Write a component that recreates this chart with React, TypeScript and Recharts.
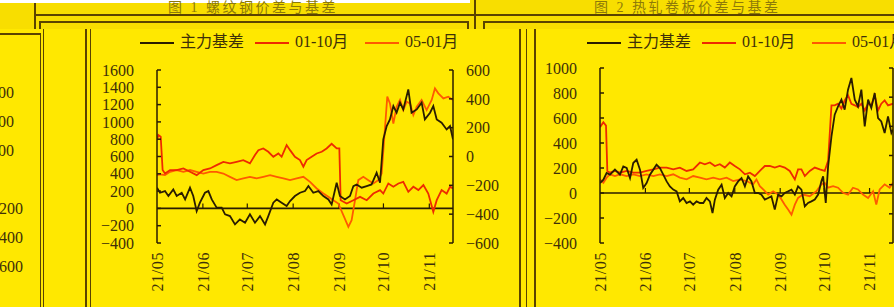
import React from 'react';
import { LineChart, Line, XAxis, YAxis, ReferenceLine } from 'recharts';

// ---------- shared axis data ----------
const monthDays = [0, 31, 61, 92, 123, 153, 184];
const monthLabels = ['21/05', '21/06', '21/07', '21/08', '21/09', '21/10', '21/11'];
const c1LeftTicks = [-400, -200, 0, 200, 400, 600, 800, 1000, 1200, 1400, 1600];
const c2LeftTicks = [-400, -200, 0, 200, 400, 600, 800, 1000];
const rightTicks = [-600, -400, -200, 0, 200, 400, 600];
const partialTicks = [600, 400, 200, 0, -200, -400, -600];
const seriesNames = ['主力基差', '01-10月', '05-01月'];
const titles = ['图 1  螺纹钢价差与基差', '图 2  热轧卷板价差与基差'];

// ---------- chart 1 (days since 2021-05-01) ----------
const c1BasisDay = [0, 2, 5.4, 7.7, 11, 13.3, 16.7, 19, 22.3, 24.5, 26.8, 29, 32.4, 34.7, 37, 40.3, 43.7, 46, 49.3, 52.7, 56, 59.5, 62.8, 66.2, 69.6, 73, 75.2, 78.6, 80.9, 84.2, 87.6, 89.9, 93.2, 96.6, 100, 102.3, 105.6, 109, 112.4, 115.8, 118, 121.4, 123.6, 127, 130.4, 132.7, 134.9, 138.3, 141.7, 145, 148.4, 150.7, 152.9, 155.2, 157.4, 159.7, 161.9, 164.2, 166.4, 169.8, 172, 175.5, 178.8, 181, 184.5, 186.7, 189, 192.3, 195.7, 198, 200];
const c1BasisVal = [239, 181, 200, 143, 220, 143, 181, 104, 239, 143, -31, 66, 181, 200, 104, 8, 8, -69, -89, -185, -127, -166, -69, -166, -89, -185, -89, 66, 104, 66, 27, 85, 143, 181, 200, 258, 181, 200, 143, 104, 46, 297, 143, 104, 143, 258, 277, 239, 258, 277, 412, 297, 798, 952, 1029, 1183, 1106, 1222, 1144, 1376, 1106, 1144, 1222, 1029, 1106, 1183, 1029, 990, 913, 952, 798];

const c1S0110Day = [0, 0.9, 2.5, 3.8, 5.4, 8.8, 13.3, 17.8, 22.3, 26.8, 31.3, 35.8, 40.3, 44.8, 49.3, 53.8, 58.3, 62.8, 66.2, 68.5, 71.8, 75.2, 78.6, 82, 84.2, 87.6, 89.9, 93.2, 96.6, 98.9, 101.1, 104.5, 107.9, 111.3, 114.6, 118, 121.4, 123.2, 124.1, 128.2, 132.7, 137.2, 141.7, 146.2, 150.7, 152.9, 156.3, 159.7, 163.1, 166.4, 169.8, 173.2, 176.6, 180, 183.3, 186.7, 189, 192.3, 195.7, 198, 200];
const c1S0110Val = [114, 149, 137, -94, -118, -94, -94, -83, -106, -129, -94, -83, -60, -37, -48, -37, -25, -48, 10, 44, 56, 33, -2, 21, -2, 79, 44, -2, -25, -71, -25, -2, 21, 33, 56, 88, 56, 56, -303, -326, -303, -280, -303, -257, -233, -257, -187, -210, -187, -176, -245, -210, -233, -198, -257, -384, -303, -233, -257, -210, -221];

const c1S0501Day = [0, 2, 5.4, 8.8, 13.3, 17.8, 22.3, 26.8, 31.3, 35.8, 40.3, 44.8, 49.3, 53.8, 58.3, 62.8, 67.3, 71.8, 76.4, 80.9, 85.4, 89.9, 94.4, 98.9, 103.4, 107.9, 112.4, 115.8, 119.1, 122.5, 125.9, 129.3, 131.5, 133.8, 136, 139.4, 142.8, 146.2, 149.5, 151.8, 154.1, 155.6, 157.4, 159.7, 161.9, 164.2, 166.4, 168.7, 170.9, 173.2, 175.5, 178.8, 182.2, 185.6, 187.8, 190.1, 193.5, 196.8, 200];
const c1S0501Val = [-129, -124, -129, -106, -94, -106, -94, -106, -118, -106, -106, -118, -141, -164, -152, -141, -152, -141, -129, -141, -152, -164, -152, -141, -176, -222, -257, -280, -303, -326, -407, -488, -442, -303, -164, -141, -164, -187, -164, -118, 206, 415, 368, 229, 345, 392, 322, 380, 368, 288, 345, 392, 322, 392, 472, 438, 403, 415, 392];

// ---------- chart 2 ----------
const c2BasisDay = [0, 2.3, 4.5, 6.8, 10.2, 13.6, 15.9, 18.2, 20.5, 22.7, 25, 27.3, 29.5, 31.8, 34.1, 36.4, 38.6, 40.9, 43.2, 45.5, 47.7, 50, 52.3, 54.5, 56.8, 59.1, 61.4, 63.6, 65.9, 68.2, 70.5, 72.7, 75, 76.8, 78.4, 80.7, 83, 85.2, 87.5, 89.8, 92, 94.3, 96.6, 98.9, 101.1, 103.4, 105.7, 108, 110.2, 112.5, 114.8, 117, 119.3, 121.6, 123.9, 126.1, 128.4, 130.7, 133, 135.2, 137.5, 139.8, 142, 144.3, 146.6, 148.9, 151.1, 152.3, 154.1, 155.7, 158, 160.2, 162.5, 164.8, 167, 169.3, 171.6, 173.9, 176.1, 178.4, 180.7, 183, 185.2, 187.5, 189.8, 192, 194.3, 196.6, 198.9, 200];
const c2BasisVal = [80, 107, 160, 147, 187, 147, 213, 200, 120, 240, 267, 187, 40, 80, 147, 187, 227, 200, 147, 93, 53, 27, 13, -67, -40, -80, -67, -93, -67, -80, -80, -40, -67, -160, -53, 27, 67, -40, 0, -27, 53, 93, 120, 53, 133, 93, 0, 0, -13, -53, -40, -27, -133, -13, -27, 0, 13, 27, -13, 53, 27, -107, -80, -67, -53, -13, 93, 133, -80, 213, 453, 627, 693, 747, 667, 827, 920, 747, 693, 827, 533, 747, 680, 800, 600, 573, 480, 613, 480, 507];

const c2S0110Day = [0, 2.3, 4.1, 5, 6.8, 10.2, 13.6, 18.2, 22.7, 27.3, 31.8, 36.4, 40.9, 45.5, 50, 54.5, 59.1, 63.6, 68.2, 71.6, 75, 78.4, 81.8, 85.2, 88.6, 92, 95.5, 98.9, 102.3, 105.7, 109.1, 112.5, 115.9, 119.3, 122.7, 126.1, 129.5, 133, 135.2, 137.5, 139.8, 143.2, 146.6, 150, 153.4, 155.7, 158, 160.2, 162.5, 164.8, 167, 169.3, 171.6, 173.9, 176.1, 178.4, 180.7, 183, 185.2, 187.5, 189.8, 192, 194.3, 196.6, 200];
const c2S0110Val = [194, 228, 205, -106, -118, -106, -118, -106, -118, -118, -106, -95, -83, -83, -95, -83, -106, -95, -48, -60, -48, -72, -60, -83, -48, -72, -95, -129, -118, -141, -106, -72, -72, -83, -72, -83, -106, -164, -95, -95, -141, -106, -83, -95, -106, -37, 344, 344, 355, 321, 378, 413, 355, 344, 332, 355, 309, 355, 344, 413, 309, 355, 378, 344, 355];

const c2S0501Day = [0, 2.3, 4.5, 6.8, 10.2, 13.6, 18.2, 22.7, 27.3, 31.8, 36.4, 40.9, 45.5, 50, 54.5, 59.1, 63.6, 68.2, 72.7, 77.3, 81.8, 86.4, 90.9, 95.5, 100, 104.5, 106.8, 109.1, 111.4, 114.8, 118.2, 121.6, 123.9, 126.1, 128.4, 130.7, 133, 135.2, 138.6, 143.2, 147.7, 151.1, 153.4, 155.7, 159.1, 162.5, 165.9, 169.3, 172.7, 176.1, 179.5, 183, 186.4, 188.6, 190.9, 194.3, 197.7, 200];
const c2S0501Val = [-164, -187, -152, -129, -141, -129, -141, -129, -141, -129, -141, -129, -141, -129, -152, -164, -141, -152, -164, -152, -164, -152, -175, -164, -175, -198, -164, -210, -233, -268, -245, -268, -302, -337, -371, -406, -337, -291, -268, -279, -245, -198, -187, -221, -210, -221, -256, -268, -221, -233, -268, -291, -245, -337, -233, -198, -221, -187];

// ---------- styles ----------
const BG = '#FFE800';
const BAND = '#F8DE00';
const FRAME = '#5A4300';
const INK = '#3E3008';
const BLACK = '#2A1C00';
const RED = '#EE2A00';
const ORANGE = '#FF5A00';
const SERIF = "'Liberation Serif', 'Noto Sans CJK SC', serif";

type Row = { d: number; b?: number; a?: number; c?: number };

function buildRows(parts: { key: 'b' | 'a' | 'c'; days: number[]; vals: number[] }[]): Row[] {
  const map = new Map<number, Row>();
  parts.forEach(p => {
    p.days.forEach((d, i) => {
      const r = map.get(d) || { d };
      r[p.key] = p.vals[i];
      map.set(d, r);
    });
  });
  return Array.from(map.values()).sort((x, y) => x.d - y.d);
}

const rows1 = buildRows([
  { key: 'b', days: c1BasisDay, vals: c1BasisVal },
  { key: 'a', days: c1S0110Day, vals: c1S0110Val },
  { key: 'c', days: c1S0501Day, vals: c1S0501Val },
]);
const rows2 = buildRows([
  { key: 'b', days: c2BasisDay, vals: c2BasisVal },
  { key: 'a', days: c2S0110Day, vals: c2S0110Val },
  { key: 'c', days: c2S0501Day, vals: c2S0501Val },
]);

const fmt = (v: number) => (v < 0 ? '\u2212' + Math.abs(v) : String(v));

const MonthTick = (props: any) => {
  const { x, y, payload } = props;
  const i = monthDays.indexOf(payload.value);
  return (
    <g transform={`translate(${x},${y})`}>
      <text transform="rotate(-90)" textAnchor="end" dy="0.36em" fontSize={16} fontFamily={SERIF} fill={INK} letterSpacing={0.6}>
        {monthLabels[i]}
      </text>
    </g>
  );
};

const tickStyle = { fontSize: 16, fontFamily: SERIF, fill: INK };

function Panel(props: { rows: Row[]; leftTicks: number[]; left: number; top: number; width: number; height: number; tickUnits: number }) {
  const { rows, leftTicks, left, top, width, height, tickUnits } = props;
  const lo = leftTicks[0];
  const hi = leftTicks[leftTicks.length - 1];
  return (
    <div style={{ position: 'absolute', left, top }}>
      <LineChart width={width} height={height} data={rows} margin={{ top: 20, right: 0, bottom: 0, left: 0 }}>
        <XAxis
          dataKey="d"
          type="number"
          domain={[0, 200]}
          ticks={monthDays}
          allowDataOverflow
          axisLine={false}
          tickLine={false}
          tickSize={0}
          tickMargin={9}
          height={64}
          interval={0}
          tick={<MonthTick />}
        />
        <YAxis
          yAxisId="L"
          domain={[lo, hi]}
          ticks={leftTicks}
          interval={0}
          width={67}
          tickSize={-4}
          tickMargin={27}
          tick={tickStyle}
          tickFormatter={fmt}
          axisLine={{ stroke: BLACK, strokeWidth: 1.5 }}
          tickLine={{ stroke: BLACK, strokeWidth: 1.5 }}
          allowDataOverflow
        />
        <YAxis
          yAxisId="R"
          orientation="right"
          domain={[-600, 600]}
          ticks={rightTicks}
          interval={0}
          width={67}
          tickSize={-4}
          tickMargin={17}
          tick={tickStyle}
          tickFormatter={fmt}
          axisLine={{ stroke: BLACK, strokeWidth: 1.5 }}
          tickLine={{ stroke: BLACK, strokeWidth: 1.5 }}
          allowDataOverflow
        />
        <ReferenceLine yAxisId="L" y={0} stroke={BLACK} strokeWidth={1.6} />
        {monthDays.slice(1).map(m => (
          <ReferenceLine
            key={m}
            yAxisId="L"
            segment={[{ x: m, y: 0 }, { x: m, y: tickUnits }]}
            stroke={BLACK}
            strokeWidth={1.2}
          />
        ))}
        <Line yAxisId="R" dataKey="c" stroke={ORANGE} strokeWidth={1.8} dot={false} connectNulls isAnimationActive={false} />
        <Line yAxisId="R" dataKey="a" stroke={RED} strokeWidth={1.8} dot={false} connectNulls isAnimationActive={false} />
        <Line yAxisId="L" dataKey="b" stroke={BLACK} strokeWidth={1.8} dot={false} connectNulls isAnimationActive={false} />
      </LineChart>
    </div>
  );
}

function LegendRow(props: { left: number }) {
  const { left } = props;
  const colors = [BLACK, RED, ORANGE];
  const lineX = [0, 115, 225];
  const textX = [40, 155, 265];
  return (
    <div style={{ position: 'absolute', left, top: 33, height: 18, width: 340 }}>
      {seriesNames.map((n, i) => (
        <React.Fragment key={n}>
          <div style={{ position: 'absolute', left: lineX[i], top: 8.5, width: 34, height: 2, background: colors[i] }} />
          <span style={{ position: 'absolute', left: textX[i], top: -1, fontSize: 16, lineHeight: '20px', fontFamily: SERIF, color: INK, whiteSpace: 'nowrap' }}>{n}</span>
        </React.Fragment>
      ))}
    </div>
  );
}

function Box(props: { l: number; t: number; w: number; h: number; c?: string }) {
  return <div style={{ position: 'absolute', left: props.l, top: props.t, width: props.w, height: props.h, background: props.c || FRAME }} />;
}

export default function App() {
  return (
    <div style={{ position: 'absolute', left: 0, top: 0, width: 894, height: 307, overflow: 'hidden', background: BG }}>
      {/* top band */}
      <Box l={0} t={0} w={894} h={29} c={BAND} />
      <Box l={0} t={0} w={470} h={3} c="#FFFFFF" />
      {/* titles */}
      <span style={{ position: 'absolute', left: 168, top: 0, fontSize: 14, lineHeight: '16px', letterSpacing: 2.5, color: '#8E7A08', fontFamily: SERIF, whiteSpace: 'nowrap' }}>{titles[0]}</span>
      <span style={{ position: 'absolute', left: 594, top: 0, fontSize: 14, lineHeight: '16px', letterSpacing: 2.5, color: '#8E7A08', fontFamily: SERIF, whiteSpace: 'nowrap' }}>{titles[1]}</span>
      <Box l={34} t={3} w={1.5} h={26} />
      <Box l={474} t={0} w={1.5} h={29} />
      <Box l={34} t={14} w={860} h={1.5} />
      <Box l={39} t={21} w={429} h={1.5} />
      <Box l={39} t={21} w={1.5} h={8} />
      <Box l={467} t={21} w={1.5} h={8} />
      <Box l={483} t={21} w={411} h={1.5} />
      <Box l={483} t={21} w={1.5} h={8} />
      {/* vertical frame lines */}
      <Box l={0} t={33} w={40.5} h={1.5} />
      <Box l={39.5} t={33} w={1.5} h={274} />
      <Box l={42.5} t={29} w={1.5} h={278} />
      <Box l={85} t={29} w={1.5} h={278} />
      <Box l={89.5} t={29} w={1.5} h={278} />
      <Box l={519} t={29} w={1.5} h={278} />
      <Box l={525.5} t={29} w={1.5} h={278} />
      <Box l={534} t={29} w={1.5} h={278} />
      {/* partial right axis of the chart on the far left (cut off by the page edge, as in the reference) */}
      {partialTicks.map((v, i) => (
        <span key={v} style={{ position: 'absolute', left: -10, top: 93 + i * 29 - 10, fontSize: 16, lineHeight: '20px', fontFamily: SERIF, color: INK }}>{fmt(v)}</span>
      ))}
      <LegendRow left={140} />
      <LegendRow left={587} />
      <Panel rows={rows1} leftTicks={c1LeftTicks} left={90} top={50} width={430} height={257} tickUnits={58} />
      <Panel rows={rows2} leftTicks={c2LeftTicks} left={533} top={48} width={427} height={259} tickUnits={40} />
    </div>
  );
}
